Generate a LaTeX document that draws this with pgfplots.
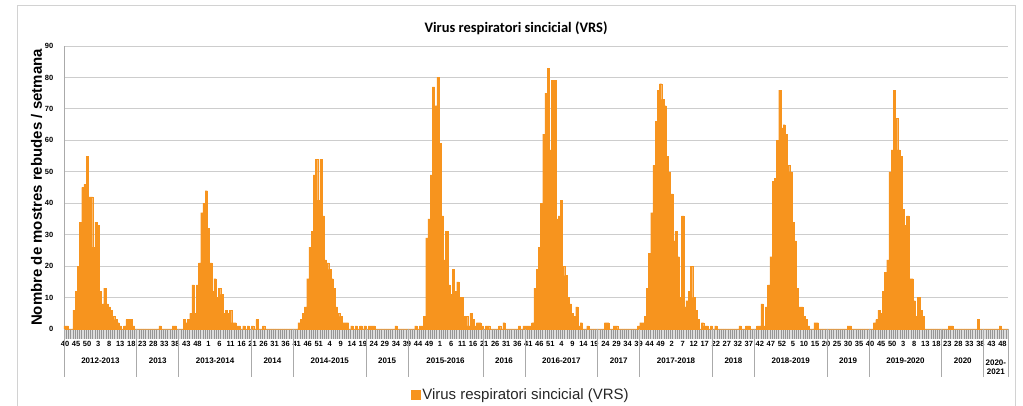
\documentclass[border=0pt]{standalone}
\usepackage{fontspec}
\setmainfont{Liberation Sans}
\newfontfamily\carlito{Carlito}
\usepackage{pgfplots}
\usepackage{pgfplotstable}
\pgfplotsset{compat=1.18}
\definecolor{vrs}{RGB}{247,148,30}
\definecolor{gridc}{RGB}{205,205,205}
\definecolor{axc}{RGB}{170,170,170}
\definecolor{tickc}{RGB}{150,150,150}
\definecolor{bandc}{RGB}{222,222,222}

\pgfplotstableread[row sep=\\]{
y\\
1\\1\\0\\0\\6\\12\\20\\34\\45\\46\\55\\42\\42\\26\\34\\33\\12\\8\\13\\8\\7\\6\\4\\3\\2\\1\\0\\1\\3\\3\\3\\1\\0\\
0\\0\\0\\0\\0\\0\\0\\0\\0\\0\\1\\0\\0\\0\\0\\0\\1\\1\\0\\
0\\0\\3\\2\\3\\5\\14\\5\\14\\21\\37\\40\\44\\32\\21\\12\\16\\10\\13\\11\\5\\6\\5\\6\\2\\2\\1\\1\\0\\1\\0\\1\\0\\
1\\0\\3\\0\\0\\1\\0\\0\\0\\0\\0\\0\\0\\0\\0\\0\\0\\0\\0\\
0\\0\\2\\3\\5\\7\\16\\26\\31\\49\\54\\41\\54\\36\\22\\21\\19\\16\\13\\7\\5\\4\\2\\2\\2\\0\\1\\0\\1\\0\\1\\0\\1\\
0\\1\\1\\1\\0\\0\\0\\0\\0\\0\\0\\0\\0\\1\\0\\0\\0\\0\\0\\
0\\0\\0\\1\\0\\1\\1\\4\\29\\35\\49\\77\\71\\80\\59\\36\\22\\31\\14\\11\\19\\12\\15\\10\\10\\4\\4\\1\\5\\3\\1\\2\\2\\1\\
0\\1\\1\\0\\0\\0\\0\\1\\0\\2\\0\\0\\0\\0\\0\\0\\1\\0\\1\\
1\\1\\1\\2\\13\\19\\26\\40\\62\\75\\83\\57\\79\\79\\35\\36\\41\\20\\17\\10\\8\\5\\4\\7\\1\\2\\0\\0\\1\\0\\0\\0\\0\\
0\\0\\0\\2\\2\\0\\0\\1\\1\\0\\0\\0\\0\\0\\0\\0\\0\\0\\1\\
2\\2\\4\\13\\24\\37\\52\\66\\76\\78\\73\\71\\55\\50\\43\\28\\31\\23\\10\\36\\7\\9\\12\\20\\10\\6\\3\\0\\2\\1\\1\\0\\1\\
0\\1\\0\\0\\0\\0\\0\\0\\0\\0\\0\\0\\1\\0\\0\\1\\1\\0\\0\\
0\\1\\1\\8\\1\\7\\14\\23\\47\\48\\60\\76\\64\\65\\62\\52\\50\\34\\28\\13\\7\\7\\4\\3\\1\\0\\0\\2\\2\\0\\0\\0\\0\\
0\\0\\0\\0\\0\\0\\0\\0\\0\\1\\1\\0\\0\\0\\0\\0\\0\\0\\0\\
0\\0\\2\\3\\6\\5\\12\\18\\22\\50\\57\\76\\67\\57\\55\\38\\33\\36\\16\\16\\9\\4\\10\\6\\4\\0\\0\\0\\0\\0\\0\\0\\0\\
0\\0\\0\\1\\1\\0\\0\\0\\0\\0\\0\\0\\0\\0\\0\\0\\3\\0\\0\\
0\\0\\0\\0\\0\\0\\0\\1\\0\\0\\0\\
}\vrsdata

\begin{document}
\begin{tikzpicture}
\useasboundingbox (0pt,0pt) rectangle (1023pt,406pt);
\clip (0pt,0pt) rectangle (1023pt,406pt);
\draw[gray!35, line width=1pt] (17pt,-10pt) rectangle (1015pt,400pt);
\node[font=\carlito\bfseries\fontsize{14.5}{16}\selectfont, anchor=center] at (516pt,378pt) {Virus respiratori sincicial (VRS)};
\fill[bandc] (64pt,67pt) rectangle (1008pt,77pt);
\draw[tickc, line width=0.6pt] \foreach \i in {0,...,428} {(64pt+\i*2.205607pt,77pt) -- ++(0pt,-10pt)};
\begin{axis}[
  at={(64pt,77pt)}, anchor=south west,
  width=944pt, height=283pt, scale only axis,
  xmin=-0.5, xmax=427.5, ymin=0, ymax=90,
  clip=false,
  axis x line*=bottom, axis y line*=left,
  axis line style={axc, line width=0.8pt, -},
  ytick={0,10,...,90},
  ymajorgrids, grid style={gridc, line width=0.9pt},
  /pgf/number format/assume math mode=true,
  yticklabel style={font=\bfseries\fontsize{7.5}{8}\selectfont, xshift=-3pt},
  tick align=outside,
  y tick style={draw=none},
  xtick=\empty,
  extra x ticks={0,5,...,425},
  extra x tick labels={40,45,50,3,8,13,18,23,28,33,38,43,48,1,6,11,16,21,26,31,36,41,46,51,4,9,14,19,24,29,34,39,44,49,1,6,11,16,21,26,31,36,41,46,51,4,9,14,19,24,29,34,39,44,49,2,7,12,17,22,27,32,37,42,47,52,5,10,15,20,25,30,35,40,45,50,3,8,13,18,23,28,33,38,43,48},
  extra x tick style={major tick length=0pt, tick style={draw=none}, xticklabel style={font=\bfseries\fontsize{7.5}{8}\selectfont, yshift=-9pt}},
  ylabel={Nombre de mostres rebudes / setmana},
  ylabel style={font=\bfseries\fontsize{15}{17}\selectfont, at={(axis description cs:-0.0235,0.5)}, anchor=base},
  legend style={at={(axis description cs:0.484,-0.233)}, anchor=center, draw=none, fill=none, font=\fontsize{15}{17}\selectfont, text=black!85},
]
\addplot[ybar, bar width=1, bar shift=0pt, fill=vrs, draw=vrs, line width=0.2pt,
  legend image code/.code={\fill[vrs] (0pt,-4.5pt) rectangle (9pt,4.5pt);}]
  table[x expr=\coordindex, y=y]{\vrsdata};
\addlegendentry{Virus respiratori sincicial (VRS)}
\foreach \b in {-0.5,32.5,51.5,84.5,103.5,136.5,155.5,189.5,208.5,241.5,260.5,293.5,312.5,345.5,364.5,397.5,416.5,427.5}{
  \edef\tmp{\noexpand\draw[axc, line width=0.8pt] (axis cs:\b,0) -- ++(0pt,-48pt);}\tmp
}
\begin{scope}[font=\bfseries\fontsize{8}{9}\selectfont]
\node at (axis cs:16,0) [yshift=-32pt] {2012-2013};
\node at (axis cs:42,0) [yshift=-32pt] {2013};
\node at (axis cs:68,0) [yshift=-32pt] {2013-2014};
\node at (axis cs:94,0) [yshift=-32pt] {2014};
\node at (axis cs:120,0) [yshift=-32pt] {2014-2015};
\node at (axis cs:146,0) [yshift=-32pt] {2015};
\node at (axis cs:172.5,0) [yshift=-32pt] {2015-2016};
\node at (axis cs:199,0) [yshift=-32pt] {2016};
\node at (axis cs:225,0) [yshift=-32pt] {2016-2017};
\node at (axis cs:251,0) [yshift=-32pt] {2017};
\node at (axis cs:277,0) [yshift=-32pt] {2017-2018};
\node at (axis cs:303,0) [yshift=-32pt] {2018};
\node at (axis cs:329,0) [yshift=-32pt] {2018-2019};
\node at (axis cs:355,0) [yshift=-32pt] {2019};
\node at (axis cs:381,0) [yshift=-32pt] {2019-2020};
\node at (axis cs:407,0) [yshift=-32pt] {2020};
\node[align=center] at (axis cs:422,0) [yshift=-38pt] {2020-\\2021};
\end{scope}
\end{axis}
\end{tikzpicture}
\end{document}
